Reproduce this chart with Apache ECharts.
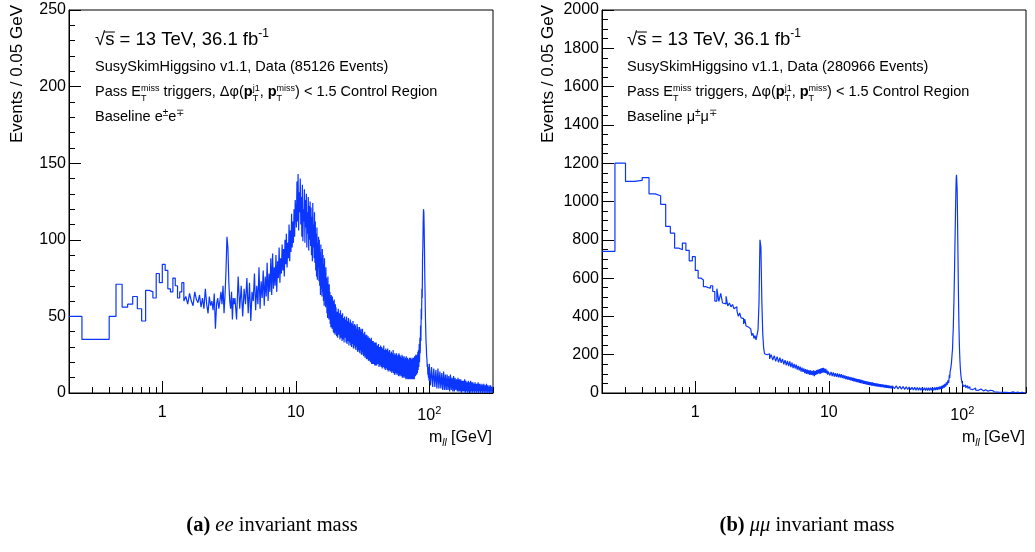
<!DOCTYPE html>
<html>
<head>
<meta charset="utf-8">
<script src="https://cdn.jsdelivr.net/npm/echarts@6/dist/echarts.min.js"></script>
<style>
html,body{margin:0;padding:0;background:#ffffff;}
#chart{width:1035px;height:552px;}
</style>
</head>
<body>
<div id="chart"></div>
<script>
// ================= DATA =================
const xRange = [0.2, 300];
const xMajorTicks = [1, 10, 100];
const xMajorLabels = ['1', '10', '10{sup|2}'];
const xMinorTicks = [0.3,0.4,0.5,0.6,0.7,0.8,0.9,2,3,4,5,6,7,8,9,20,30,40,50,60,70,80,90,200,300];
const eeYRange = [0, 250], eeYStep = 50;
const mmYRange = [0, 2000], mmYStep = 200;

// ---- e+e- histogram: counts, grouped by (first bin edge, bin width) ----
const eeLow = [50,35,35,35,50,71,56,58,63,55,47,67,66,62,78,72,
  84,80,68,66,75,70,62,66,72,60,63,58,65,60,57,66,61,59,64,56,
  62,55,68,58,52,63,57,60,54,65,42,58,62,55,60,66,58,70,52,64,
  80,102,95,72,60,55,66,48,62,58];                 // 0.20 .. 3.50, 0.05 GeV
const eeC = [62,48,76,55,70,50,68,58,75,52,
  72,47,66,60,78,54,70,58,82,55,
  73,62,80,57,76,63,85,60,78,66,
  88,64,91,68,82,70,90,66,86,75,
  95,72,88,78,97,80,94,76,100,84,
  104,82,98,88,110,86,106,92,117,95,
  112,98,120,102,126];                               // 3.5 .. 10, 0.1 GeV
const eeD = [125,108,138,112,143,106,131,118,140,110,
  128,102,136,99,120,112,133,98,126,108,
  130,95,118,104,128,93,122,100,125,96,
  121,90,115,86,124,95,110,88,118,85,
  112,80,104,76,108,74,98,82,102,73,
  100,70,92,64,97,68,88,63,94,66,
  90,60,84,57,88,62,78,56,82,58,
  75,52,72,49,76,54,68,48,71,50,
  66,45,62,43,64,47,60,42,63,44,
  60,40,57,39,61,42,55,38,58,40];                    // 10 .. 20, 0.1 GeV
const eeD2 = [56,37,53,36,55,38,52,35,54,36,
  51,34,52,35,49,33,50,36,48,33,
  50,32,47,34,49,31,46,33,48,31,
  46,30,45,32,47,29,44,31,45,29,
  44,28,42,30,45,27,43,28,41,27,
  43,26,41,28,42,25,40,27,42,25,
  39,24,38,25,40,23,37,24,38,22,
  38,22,36,23,37,21,35,22,36,21,
  35,20,34,21,36,19,33,20,34,19,
  34,19,32,20,33,18,31,19,33,18];                    // 20 .. 40, 0.2 GeV
const eeE = [33,18,31,19,32,17,30,18,31,17,
  30,16,29,17,31,16,28,15,29,16,
  28,15,29,14,27,15,28,14,26,14,
  27,13,26,14,28,13,25,12,26,13,
  25,12,26,13,24,12,25,11,26,12,
  25,11,24,12,23,11,25,10,24,11,
  23,10,24,11,22,10,23,9,24,10,
  22,9,23,10,22,9,21,10,23,9,
  22,9,23,10,21,9,22,10,23,9,
  22,10,23,9,24,11,23,11,25,12];                     // 40 .. 80, 0.4 GeV
const eeF = [24,12,25,13,27,15,28,17,32,20,
  36,26,44,34,55,48,68,62,88,96,
  112,120,118,108,94,76,64,50,42,34,
  30,24,22,17,19,12,17,10,16,8];                     // 80 .. 100, 0.5 GeV
const eeG = [19,5,17,4,16,4,15,3,16,3,
  14,3,13,2,14,2,12,2,12,2,
  11,1,12,2,10,1,11,1,10,2,
  9,1,10,1,9,1,9,0,8,1,
  8,1,9,0,8,1,7,0,8,1,
  7,0,8,1,7,0,7,1,6,0,
  7,1,6,0,6,1,7,0,6,1,
  6,0,5,1,6,0,5,1,6,0,
  5,1,5,0,6,1,5,0,4,1,
  5,0,4,1,5,0,4,1,4,0];                              // 100 .. 300, 2 GeV

// ---- mu+mu- histogram ----
const mmLow = [740,1200,1105,1110,1125,1040,1030,985,870,835,757,748,783,745,690,712,
  640,600,590,555,550,548,560,530,480,545,478,520,470,465,505,455,470,450,462,440,
  450,430,400,418,392,388,360,385,350,345,348,335,330,300,312,285,300,278,275,330,
  470,800,760,480,310,236,205,195,200,190];          // 0.20 .. 3.50, 0.05 GeV
const mmC = [205,178,200,172,195,165,190,160,184,158,
  178,150,172,145,168,140,165,135,158,130,
  152,128,148,122,142,118,138,112,132,110,
  128,104,125,100,122,98,120,95,118,94,
  116,92,118,88,115,95,120,98,122,102,
  125,100,128,104,130,106,132,108,128,105,
  126,102,118,96,112];                               // 3.5 .. 10, 0.1 GeV
const mmD = [112,92,110,88,108,86,104,84,102,82,
  100,80,98,78,95,75,92,72,88,70,
  86,68,84,66,82,63,80,61,78,60,
  75,57,73,55,72,53,70,52,68,50,
  66,48,64,47,62,45,61,44,60,42,
  58,41,57,40,56,39,55,38,53,37,
  52,36,51,35,50,34,49,33,48,33,
  47,32,46,31,45,30,45,30,44,29,
  43,28,43,28,42,27,41,27,40,26,
  40,25,39,25,38,24,38,24,37,23];                    // 10 .. 30, 0.2 GeV
const mmE = [38,22,37,21,35,20,34,19,33,18,
  31,17,30,16,30,15,29,15,28,14,
  28,14,27,13,28,13,27,13,28,14,
  28,14,29,15,30,16,32,18,34,20,
  37,23,42,27,48,33,55,42,66,52];                    // 30 .. 80, 1 GeV
const mmF = [95,78,110,100,130,125,160,170,210,230,
  290,330,400,470,560,650,760,860,960,1050,
  1120,1140,1130,1060,940,800,660,530,420,330,
  260,210,170,140,115,95,82,70,62,55];               // 80 .. 100, 0.5 GeV
const mmG = [55,34,42,28,38,24,33,21,30,18,
  28,17,26,15,24,14,22,13,21,12,
  20,11,18,10,17,9,16,9,15,8,
  14,7,13,7,13,6,12,6,11,5,
  11,5,10,5,10,4,9,4,9,4,
  9,3,8,3,8,3,8,3,7,2,
  7,2,7,2,6,2,6,2,6,2,
  6,1,6,1,5,1,5,1,5,1,
  5,1,5,1,5,1,4,0,4,1,
  4,1,4,0,4,1,4,0,4,0];                              // 100 .. 300, 2 GeV

// binning groups: [first edge, width, counts]
const eeGroups = [[0.2,0.05,eeLow],[3.5,0.1,eeC],[10,0.1,eeD],[20,0.2,eeD2],[40,0.4,eeE],[80,0.5,eeF],[100,2,eeG]];
const mmGroups = [[0.2,0.05,mmLow],[3.5,0.1,mmC],[10,0.2,mmD],[30,1,mmE],[80,0.5,mmF],[100,2,mmG]];

// texts
const energyText = ' = 13 TeV, 36.1 fb';
const lumiExp = '-1';
const eeInfo = 'SusySkimHiggsino v1.1, Data (85126 Events)';
const mmInfo = 'SusySkimHiggsino v1.1, Data (280966 Events)';
const yTitle = 'Events / 0.05 GeV';
const capA = ['(a)', 'ee', ' invariant mass'];
const capB = ['(b)', 'μμ', ' invariant mass'];

// ================= BUILD =================
function buildHist(groups, xEnd){
  const out = []; let last = 0;
  groups.forEach(([s, w, vals]) => vals.forEach((v, i) => { out.push([+(s + i*w).toFixed(3), v]); last = v; }));
  out.push([xEnd, last]);
  return out;
}

const SANS = '"Liberation Sans", Arial, Helvetica, sans-serif';
const SERIF = '"Liberation Serif", "Times New Roman", serif';
const BLUE = '#0a36ff';
const mctx = document.createElement('canvas').getContext('2d');
function fontOf(p){ return (p.it?'italic ':'') + (p.b?'bold ':'') + p.s + 'px ' + (p.f || SANS); }
function wOf(t, p){ mctx.font = fontOf(p); return mctx.measureText(t).width; }
function widthOf(p){
  if (p.t !== undefined) return wOf(p.t, p) + (p.gap || 0);
  return Math.max(p.sup ? wOf(p.sup, p) : 0, p.sub ? wOf(p.sub, p) : 0) + (p.gap || 0);
}
function txt(t, x, base, p){
  return {type:'text', x:x, y:base - 0.32*p.s, silent:true, z:100,
    style:{text:t, font:fontOf(p), fill:'#000', align:'left', verticalAlign:'middle', textAlign:'left', textVerticalAlign:'middle'}};
}
function textLine(x0, base, pieces, mode, defS, defF){
  pieces = pieces.map(p => Object.assign({s:defS, f:defF}, p));
  const total = pieces.reduce((a, p) => a + widthOf(p), 0);
  let cx = mode === 'right' ? x0 - total : mode === 'center' ? x0 - total/2 : x0;
  const els = [];
  pieces.forEach(p => {
    const w = widthOf(p);
    if (p.t !== undefined) {
      els.push(txt(p.t, cx, base + (p.dy || 0), p));
      if (p.ov) els.push({type:'line', silent:true, z:100, shape:{x1:cx-1, y1:base-p.ov, x2:cx+w+0.5, y2:base-p.ov}, style:{stroke:'#000', lineWidth:1}});
    } else {
      if (p.sup) els.push(txt(p.sup, cx, base + p.supDy, p));
      if (p.sub) els.push(txt(p.sub, cx, base + p.subDy, p));
    }
    cx += w;
  });
  return els;
}
const stackMiss = {sup:'miss', sub:'T', s:9, supDy:-6, subDy:4};
const stackJ1 = {sup:'j1', sub:'T', s:9, supDy:-6, subDy:4};
function header(x, info, lepton){
  return [].concat(
    textLine(x, 46, [{t:'√'}, {t:'s', ov:14}, {t:energyText}, {t:lumiExp, s:12, dy:-8}], 'left', 18.5),
    textLine(x, 72, [{t:info}], 'left', 14.5),
    textLine(x, 97, [{t:'Pass E'}, stackMiss, {t:' triggers, Δφ('}, {t:'p', b:true}, stackJ1, {t:', '}, {t:'p', b:true}, stackMiss, {t:') < 1.5 Control Region'}], 'left', 14.5),
    textLine(x, 122, [{t:'Baseline ' + lepton}, {t:'±', s:10, dy:-6}, {t:lepton}, {t:'∓', s:10, dy:-6}], 'left', 14.5)
  );
}
function xTitle(xr){
  return textLine(xr, 443, [{t:'m'}, {t:'ll', it:true, s:10, dy:3}, {t:' [GeV]'}], 'right', 16);
}
function yTitleEl(x){
  return {type:'text', x:x, y:5, rotation:Math.PI/2, silent:true, z:100,
    style:{text:yTitle, font:'17px ' + SANS, fill:'#000', align:'right', verticalAlign:'middle', textAlign:'right', textVerticalAlign:'middle'}};
}
function caption(xc, parts){
  return textLine(xc, 532, [{t:parts[0], b:true}, {t:' '}, {t:parts[1], it:true}, {t:parts[2]}], 'center', 20.5, SERIF);
}

function xAxesFor(gi){
  return [{
    type:'log', logBase:10, gridIndex:gi, min:xRange[0], max:xRange[1], position:'bottom',
    axisLine:{show:true, onZero:false, lineStyle:{color:'#000', width:1}},
    axisTick:{show:true, inside:true, length:12, customValues:xMajorTicks, lineStyle:{color:'#000', width:1}},
    axisLabel:{show:true, customValues:xMajorTicks, margin:12, color:'#000', fontFamily:SANS, fontSize:16,
      formatter:(v) => { const i = xMajorTicks.findIndex(t => Math.abs(t - v) < 1e-6*t); return i >= 0 ? xMajorLabels[i] : ''; },
      rich:{sup:{fontSize:11, fontFamily:SANS, color:'#000', padding:[0,0,10,0]}}},
    splitLine:{show:false}, minorTick:{show:false}
  },{
    type:'log', logBase:10, gridIndex:gi, min:xRange[0], max:xRange[1], position:'bottom',
    axisLine:{show:false},
    axisTick:{show:true, inside:true, length:6, customValues:xMinorTicks, lineStyle:{color:'#000', width:1}},
    axisLabel:{show:false}, splitLine:{show:false}
  }];
}
function yAxisFor(gi, range, step, minorSplit){
  return {type:'value', gridIndex:gi, min:range[0], max:range[1], interval:step,
    axisLine:{show:true, onZero:false, lineStyle:{color:'#000', width:1}},
    axisTick:{show:true, inside:true, length:12, lineStyle:{color:'#000', width:1}},
    minorTick:{show:true, splitNumber:minorSplit, length:6, lineStyle:{color:'#000', width:1}},
    axisLabel:{margin:3, color:'#000', fontFamily:SANS, fontSize:16, formatter:(v) => String(v)},
    splitLine:{show:false}};
}

const chart = echarts.init(document.getElementById('chart'), null, {renderer:'canvas'});
const option = {
  animation:false,
  backgroundColor:'#ffffff',
  grid:[
    {left:69, top:10, width:424, height:383, show:true, borderColor:'#000', borderWidth:1, backgroundColor:'transparent'},
    {left:602, top:10, width:424, height:383, show:true, borderColor:'#000', borderWidth:1, backgroundColor:'transparent'}
  ],
  xAxis:[].concat(xAxesFor(0), xAxesFor(1)),
  yAxis:[yAxisFor(0, eeYRange, eeYStep, 5), yAxisFor(1, mmYRange, mmYStep, 4)],
  series:[
    {type:'line', xAxisIndex:0, yAxisIndex:0, data:buildHist(eeGroups, xRange[1]), step:'end', symbol:'none',
      lineStyle:{color:BLUE, width:1.2}, clip:true, silent:true},
    {type:'line', xAxisIndex:2, yAxisIndex:1, data:buildHist(mmGroups, xRange[1]), step:'end', symbol:'none',
      lineStyle:{color:BLUE, width:1.2}, clip:true, silent:true}
  ],
  graphic:[].concat(
    header(95, eeInfo, 'e'),
    header(627, mmInfo, 'μ'),
    xTitle(492), xTitle(1025),
    [yTitleEl(17), yTitleEl(548)],
    caption(272, capA), caption(807, capB)
  )
};
chart.setOption(option);
</script>
</body>
</html>
